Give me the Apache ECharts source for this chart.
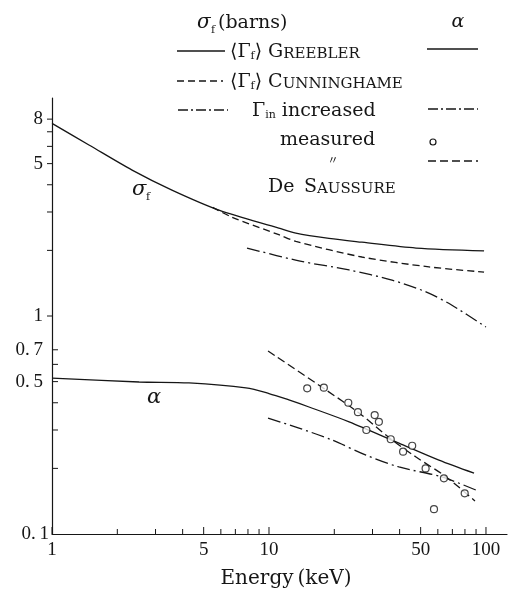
<!DOCTYPE html>
<html><head><meta charset="utf-8">
<script src="https://cdn.jsdelivr.net/npm/echarts@6/dist/echarts.min.js"></script>
<style>html,body{margin:0;padding:0;background:#fff}#c{width:511px;height:592px}</style>
</head><body><div id="c"></div>
<script>
// ---- data ----
const sigmaGreeblerX = [1, 1.48, 2.34, 3.57, 5.88, 11.1, 13.3, 18.9, 26.8, 47.6, 98];
const sigmaGreeblerY = [7.65, 6.09, 4.67, 3.78, 3.06, 2.53, 2.40, 2.27, 2.18, 2.05, 1.99];
const sigmaCunnX = [5.5, 6.75, 11.1, 13.3, 26.8, 54.6, 98];
const sigmaCunnY = [3.15, 2.84, 2.36, 2.2, 1.865, 1.68, 1.59];
const sigmaGinX = [7.92, 13.75, 23.4, 36.9, 52.9, 69.7, 100];
const sigmaGinY = [2.05, 1.79, 1.626, 1.46, 1.29, 1.12, 0.89];
const alphaGreeblerX = [1, 2.52, 4.28, 7.83, 10, 12.35, 15.29, 23.4, 39.7, 60.7, 88.1];
const alphaGreeblerY = [0.519, 0.498, 0.493, 0.468, 0.441, 0.412, 0.3825, 0.327, 0.261, 0.218, 0.19];
const alphaGinX = [9.9, 13.75, 19.5, 28.0, 39.7, 62.7, 89.9];
const alphaGinY = [0.340, 0.306, 0.270, 0.230, 0.203, 0.1826, 0.159];
const alphaSaussureX = [9.9, 18.3, 26.0, 36.9, 47.6, 65.4, 89.0];
const alphaSaussureY = [0.691, 0.458, 0.359, 0.270, 0.2255, 0.183, 0.1417];
const measuredX = [15.0, 17.9, 23.2, 25.7, 30.7, 32.1, 28.1, 36.4, 41.5, 45.7, 52.7, 64.0, 79.8, 57.6];
const measuredY = [0.466, 0.469, 0.400, 0.362, 0.351, 0.327, 0.300, 0.272, 0.2385, 0.254, 0.200, 0.180, 0.1537, 0.130];

const xTickValues = [1,2,3,4,5,6,7,8,9,10,20,30,40,50,60,70,80,90,100];
const xTickLabels = ['1','','','','5','','','','','10','','','','50','','','','','100'];
const yTickValues = [0.1,0.2,0.3,0.4,0.5,0.6,0.7,1,2,3,4,5,6,7,8];
const yTickLabels = ['0.\u20091','','','','0.\u20095','','0.\u20097','1','','','','5','','','8'];

// ---- styling ----
const INK = '#161616';
const NUM_FONT = '"Liberation Serif", "Times New Roman", serif';
const TXT_FONT = '"DejaVu Serif", serif';

function zip(xs, ys) { return xs.map((x, i) => [x, ys[i]]); }
function lineSeries(name, xs, ys, type) {
  return { name, type: 'line', data: zip(xs, ys), showSymbol: false, smooth: 0.3,
    lineStyle: { color: INK, width: 1.3, type }, itemStyle: { color: INK }, silent: true, z: 3 };
}
function txtStyle(o) {
  const s = Object.assign({ fill: INK, align: 'left', verticalAlign: 'middle' }, o);
  s.textAlign = s.align; s.textVerticalAlign = s.verticalAlign;
  return s;
}

const xTickSeries = {
  type: 'custom', silent: true, clip: false, z: 5,
  data: xTickValues.map(v => [v, 0.1]),
  renderItem(params, api) {
    const p = api.coord([api.value(0), api.value(1)]);
    const lab = xTickLabels[params.dataIndex];
    const len = lab ? 7 : 5;
    const ch = [{ type: 'line', shape: { x1: p[0], y1: p[1], x2: p[0], y2: p[1] - len }, style: { stroke: INK, lineWidth: 1 } }];
    if (lab) ch.push({ type: 'text', x: p[0], y: p[1] + 16, style: txtStyle({ text: lab, font: '19px ' + NUM_FONT, align: 'center' }) });
    return { type: 'group', children: ch };
  }
};
const yTickSeries = {
  type: 'custom', silent: true, clip: false, z: 5,
  data: yTickValues.map(v => [1, v]),
  renderItem(params, api) {
    const v = api.value(1);
    const p = api.coord([api.value(0), v]);
    const lab = yTickLabels[params.dataIndex];
    const ch = [];
    if (v >= 1) ch.push({ type: 'line', shape: { x1: p[0] - 5, y1: p[1], x2: p[0], y2: p[1] }, style: { stroke: INK, lineWidth: 1 } });
    else if (params.dataIndex > 0) ch.push({ type: 'line', shape: { x1: p[0], y1: p[1], x2: p[0] + 6, y2: p[1] }, style: { stroke: INK, lineWidth: 1 } });
    if (lab) ch.push({ type: 'text', x: p[0] - (params.dataIndex === 0 ? 3 : 9), y: p[1], style: txtStyle({ text: lab, font: '19px ' + NUM_FONT, align: 'right' }) });
    return { type: 'group', children: ch };
  }
};

// ---- legend / annotations ----
const rich = {
  a: { fontFamily: TXT_FONT, fontSize: 19, lineHeight: 22, verticalAlign: 'bottom', fill: INK, color: INK },
  s: { fontFamily: TXT_FONT, fontSize: 11, lineHeight: 8, verticalAlign: 'bottom', fill: INK, color: INK },
  c: { fontFamily: TXT_FONT, fontSize: 15, lineHeight: 19, verticalAlign: 'bottom', fill: INK, color: INK }
};
function T(x, y, text, o) { return { type: 'text', x, y, silent: true, z: 10, style: txtStyle(Object.assign({ text, font: '19px ' + TXT_FONT }, o)) }; }
function R(x, y, text) { return { type: 'text', x, y, silent: true, z: 10, style: txtStyle({ text, rich, font: '19px ' + TXT_FONT }) }; }
function L(x1, x2, y, dash) { return { type: 'line', silent: true, z: 10, shape: { x1, y1: y, x2, y2: y }, style: { stroke: INK, lineWidth: 1.3, lineDash: dash || null } }; }

const graphics = [
  T(197, 23, 'σ', { font: 'italic 20px ' + TXT_FONT }),
  T(211, 30, 'f', { font: '11px ' + TXT_FONT }),
  T(218, 23, '(barns)'),
  T(458, 22, 'α', { font: 'italic 19px ' + TXT_FONT, align: 'center' }),
  L(177, 225, 51), R(230, 51, '{a|⟨Γ}{s|f}{a|⟩ G}{c|REEBLER}'), L(427, 478, 49),
  L(177, 223, 81, [7, 4]), R(230, 81, '{a|⟨Γ}{s|f}{a|⟩ C}{c|UNNINGHAME}'),
  L(178, 228, 110, [10, 3, 2, 3]), R(252, 110, '{a|Γ}{s|in}{a| increased}'), L(428, 478, 109, [10, 3, 2, 3]),
  T(280, 140, 'measured'),
  { type: 'circle', silent: true, z: 10, shape: { cx: 433, cy: 142, r: 3 }, style: { fill: '#fff', stroke: INK, lineWidth: 1.2 } },
  T(333, 160, '〃', { font: '11px "Noto Sans CJK JP", sans-serif', align: 'center' }),
  L(428, 478, 161, [8, 4]),
  R(268, 186, '{a|De\u2002S}{c|AUSSURE}'),
  T(132, 190, 'σ', { font: 'italic 21px ' + TXT_FONT }),
  T(146, 197, 'f', { font: '11px ' + TXT_FONT }),
  T(147, 398, 'α', { font: 'italic 21px ' + TXT_FONT }),
  T(286, 579, 'Energy\u2009(keV)', { font: '20px ' + TXT_FONT, align: 'center' })
];

const chart = echarts.init(document.getElementById('c'));
chart.setOption({
  animation: false,
  backgroundColor: '#fff',
  grid: { left: 52, right: 4, top: 98, bottom: 58, containLabel: false },
  xAxis: { type: 'log', logBase: 10, min: 1, max: 125,
    axisLine: { show: true, onZero: false, lineStyle: { color: INK, width: 1.2 } },
    axisTick: { show: false }, axisLabel: { show: false }, splitLine: { show: false }, minorTick: { show: false } },
  yAxis: { type: 'log', logBase: 10, min: 0.1, max: 10,
    axisLine: { show: true, onZero: false, lineStyle: { color: INK, width: 1.2 } },
    axisTick: { show: false }, axisLabel: { show: false }, splitLine: { show: false } },
  series: [
    lineSeries('σf Greebler', sigmaGreeblerX, sigmaGreeblerY, 'solid'),
    lineSeries('σf Cunninghame', sigmaCunnX, sigmaCunnY, [7, 4]),
    lineSeries('σf Γin increased', sigmaGinX, sigmaGinY, [13, 4, 2, 4]),
    lineSeries('α Greebler', alphaGreeblerX, alphaGreeblerY, 'solid'),
    lineSeries('α Γin increased', alphaGinX, alphaGinY, [13, 4, 2, 4]),
    lineSeries('α De Saussure', alphaSaussureX, alphaSaussureY, [8, 4]),
    { name: 'α measured', type: 'scatter', data: zip(measuredX, measuredY), symbol: 'circle', symbolSize: 7, silent: true, z: 4,
      itemStyle: { color: '#fff', borderColor: INK, borderWidth: 1.2 } },
    xTickSeries, yTickSeries
  ],
  graphic: graphics
});
</script></body></html>
